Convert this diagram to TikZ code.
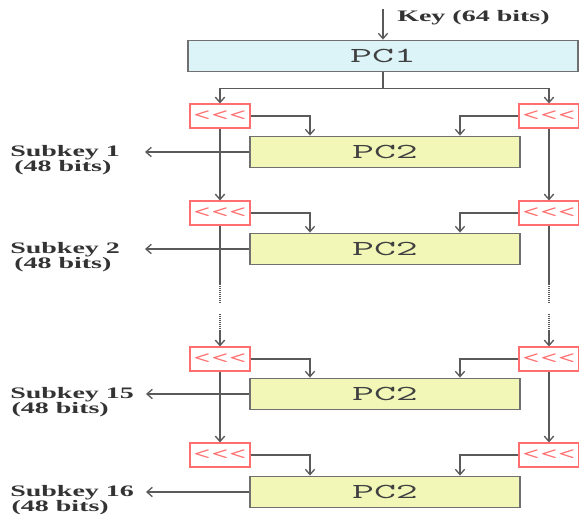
\documentclass[tikz,border=0pt]{standalone}
\usepackage{fontspec}
\usetikzlibrary{arrows,arrows.meta,positioning,calc}
\newfontfamily\labfont[FakeStretch=1.75]{Liberation Serif}
\newfontfamily\boxfont[FakeStretch=2.0]{Latin Modern Mono}
\definecolor{cline}{HTML}{5a5a5a}
\definecolor{cedge}{HTML}{707070}
\definecolor{cpcone}{HTML}{dcf3f8}
\definecolor{cpctwo}{HTML}{f2f7b8}
\definecolor{cred}{HTML}{ff6f6f}

\begin{document}
\begin{tikzpicture}[x=0.75pt, y=-0.75pt,
      pc/.style={draw=cedge, line width=1.1pt, minimum height=23.5pt, inner sep=0pt, text=black!75, font=\boxfont\fontsize{16}{16}\selectfont},
      rot/.style={draw=cred, fill=white, line width=0.8pt, minimum width=45pt, minimum height=18pt, inner sep=0pt, text=cred, font=\boxfont\fontsize{13}{13}\selectfont},
      lbl/.style={inner sep=0pt, align=left, text=black!80, font=\labfont\bfseries\fontsize{12}{11.5}\selectfont},
      line/.style={cline, line width=1pt},
      arr/.style={-{Straight Barb[length=4pt,width=7pt]}, cline, line width=1pt}
    ]
    \useasboundingbox (0,0) rectangle (579,514);
    % key input
    \node[pc, fill=cpcone, minimum width=292.5pt] (pc1) at (383,56) {PC1};
    \node[lbl, anchor=west] (key) at (397,18) {Key (64 bits)};
    \coordinate (kin) at (383,9);
    % rounds
    \node[rot] (sl1) at (220,116) {<{}<{}<};
    \node[rot] (sr1) at (549,116) {<{}<{}<};
    \node[pc, fill=cpctwo, minimum width=202.5pt] (pc2a) at (385,152) {PC2};
    \node[rot] (sl2) at (220,213) {<{}<{}<};
    \node[rot] (sr2) at (549,213) {<{}<{}<};
    \node[pc, fill=cpctwo, minimum width=202.5pt] (pc2b) at (385,249) {PC2};
    \node[rot] (sl3) at (220,359) {<{}<{}<};
    \node[rot] (sr3) at (549,359) {<{}<{}<};
    \node[pc, fill=cpctwo, minimum width=202.5pt] (pc2c) at (385,394) {PC2};
    \node[rot] (sl4) at (220,455) {<{}<{}<};
    \node[rot] (sr4) at (549,455) {<{}<{}<};
    \node[pc, fill=cpctwo, minimum width=202.5pt] (pc2d) at (385,492) {PC2};
    % subkeys
    \node[lbl, anchor=north west] (sk1) at (10,145) {Subkey 1\\\hspace{3pt}(48 bits)};
    \node[lbl, anchor=north west] (sk2) at (10,242) {Subkey 2\\\hspace{3pt}(48 bits)};
    \node[lbl, anchor=north west] (sk15) at (10,387) {Subkey 15\\\hspace{1pt}(48 bits)};
    \node[lbl, anchor=north west] (sk16) at (10,485) {Subkey 16\\\hspace{1pt}(48 bits)};
    \coordinate (k1) at (145,152);
    \coordinate (k2) at (145,249);
    \coordinate (k15) at (146,394);
    \coordinate (k16) at (146,492);

    \draw[arr] (kin) -- (pc1);
    \draw[arr] (pc1.south) -- ++(0,16) -| (sl1.north);
    \draw[arr] (pc1.south) -- ++(0,16) -| (sr1.north);
    % round 1
    \draw[arr] (sl1.east) -| ([xshift=-56.25pt]pc2a.north);
    \draw[arr] (sr1.west) -| ([xshift=56.25pt]pc2a.north);
    \draw[arr] (pc2a.west) -- (k1);
    \draw[arr] (sl1.south) -- (sl2.north); \draw[arr] (sr1.south) -- (sr2.north);
    % round 2
    \draw[arr] (sl2.east) -| ([xshift=-56.25pt]pc2b.north);
    \draw[arr] (sr2.west) -| ([xshift=56.25pt]pc2b.north);
    \draw[arr] (pc2b.west) -- (k2);
    \draw[line] (sl2.south) -- ++(0,58);
    \draw[line] (sr2.south) -- ++(0,58);
    \draw[line, dash pattern=on 0.75pt off 0.75pt] (sl2.south) ++(0,58) -- ++(0,20) ++(0,10) -- ++(0,17);
    \draw[line, dash pattern=on 0.75pt off 0.75pt] (sr2.south) ++(0,58) -- ++(0,20) ++(0,10) -- ++(0,17);
    \draw[arr] (sl2.south) ++(0,105) -- (sl3.north);
    \draw[arr] (sr2.south) ++(0,105) -- (sr3.north);
    % round 15
    \draw[arr] (sl3.east) -| ([xshift=-56.25pt]pc2c.north);
    \draw[arr] (sr3.west) -| ([xshift=56.25pt]pc2c.north);
    \draw[arr] (pc2c.west) -- (k15);
    \draw[arr] (sl3.south) -- (sl4.north); \draw[arr] (sr3.south) -- (sr4.north);
    % round 16
    \draw[arr] (sl4.east) -| ([xshift=-56.25pt]pc2d.north);
    \draw[arr] (sr4.west) -| ([xshift=56.25pt]pc2d.north);
    \draw[arr] (pc2d.west) -- (k16);
  \end{tikzpicture}
\end{document}
